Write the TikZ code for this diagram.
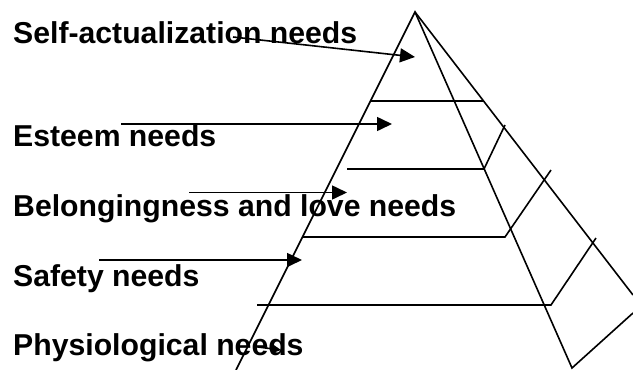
\documentclass[tikz,border=0pt]{standalone}
\usepackage{fontspec}
\setmainfont{Liberation Sans}
\usetikzlibrary{arrows.meta}
\begin{document}
\begin{tikzpicture}[x=1pt,y=-1pt,
  lbl/.style={anchor=base west,inner sep=0pt,font=\fontsize{30.2}{32}\selectfont\bfseries},
  edge/.style={line width=1.6pt,line join=miter},
  pointer/.style={line width=1.6pt,-{Triangle[length=15pt,width=14pt]}},
  smallpointer/.style={line width=1.6pt,-{Triangle[length=9pt,width=9pt]}}]
\useasboundingbox (0,0) rectangle (633,370);
% labels
\node[lbl] (t1) at (13,43) {Self-actualization needs};
\node[lbl] (t2) at (13,146.5) {Esteem needs};
\node[lbl] (t3) at (13,216) {Belongingness and love needs};
\node[lbl] (t4) at (13,286) {Safety needs};
\node[lbl] (t5) at (13,355) {Physiological needs};
% pyramid coordinates
\coordinate (apex) at (415,12);
\coordinate (lb) at (236,370);
\coordinate (mb) at (572,368);
\coordinate (rb) at (633,295);
\coordinate (rbb) at (633,313);
% pyramid edges
\draw[edge] (lb) -- (apex) -- (mb) -- (rbb);
\draw[edge] (apex) -- (rb);
% tiers
\coordinate (h1a) at (370,101); \coordinate (h1b) at (483,101);
\coordinate (h2a) at (347,169); \coordinate (h2b) at (484,169); \coordinate (h2c) at (505,125);
\coordinate (h3a) at (302,237); \coordinate (h3b) at (505,237); \coordinate (h3c) at (551,170);
\coordinate (h4a) at (257,305); \coordinate (h4b) at (551,305); \coordinate (h4c) at (596,238);
\draw[edge] (h1a) -- (h1b);
\draw[edge] (h2a) -- (h2b) -- (h2c);
\draw[edge] (h3a) -- (h3b) -- (h3c);
\draw[edge] (h4a) -- (h4b) -- (h4c);
% pointers
\coordinate (a1s) at (233,37);  \coordinate (a1e) at (415,57);
\coordinate (a2s) at (121,124); \coordinate (a2e) at (392,124);
\coordinate (a3s) at (189,192.5); \coordinate (a3e) at (347,192.5);
\coordinate (a4s) at (99,260);  \coordinate (a4e) at (302,260);
\coordinate (a5s) at (258,347); \coordinate (a5e) at (281,350);
\draw[pointer] (a1s) -- (a1e);
\draw[pointer] (a2s) -- (a2e);
\draw[pointer] (a3s) -- (a3e);
\draw[pointer] (a4s) -- (a4e);
\draw[smallpointer] (a5s) -- (a5e);
\end{tikzpicture}
\end{document}
